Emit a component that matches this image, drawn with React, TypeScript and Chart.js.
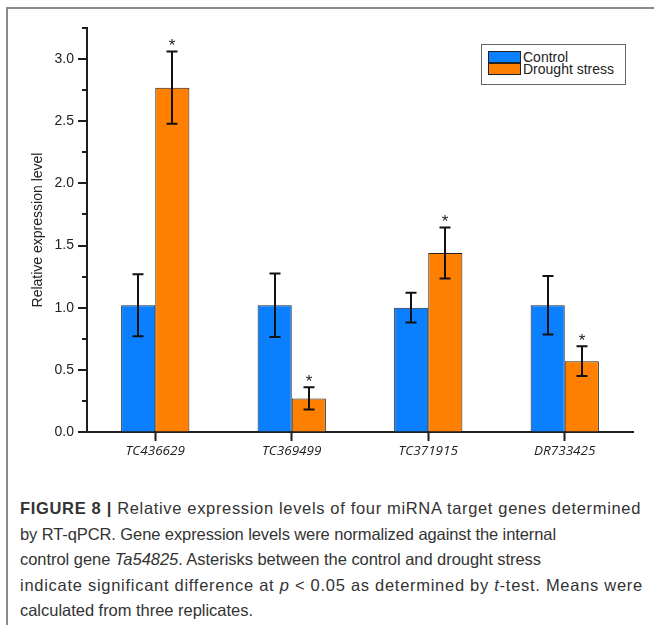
import React, { useEffect, useLayoutEffect, useRef } from "react";
import { Chart, registerables } from "chart.js";

Chart.register(...registerables);

// ---- Data ----
const categories = ["TC436629", "TC369499", "TC371915", "DR733425"];
const controlMeans = [1.02, 1.02, 1.0, 1.02];
const controlErrors = [0.25, 0.255, 0.12, 0.235];
const droughtMeans = [2.77, 0.27, 1.44, 0.57];
const droughtErrors = [0.29, 0.09, 0.205, 0.12];
const droughtSignificant = [true, true, true, true];
const seriesNames = ["Control", "Drought stress"];
const yMin = 0;
const yMax = 3.25;
const yMinorStep = 0.25;
const yTitle = "Relative expression level";

const BLUE = "#0a80ff";
const ORANGE = "#ff8000";
const INK = "#1e1e1e";

const errorsByDataset = [controlErrors, droughtErrors];
const signifByDataset = [categories.map(() => false), droughtSignificant];

const decorPlugin = {
  id: "decor",
  afterDatasetsDraw(chart: any) {
    const ctx = chart.ctx;
    const y = chart.scales.y;
    ctx.save();
    // y ticks: major every 0.5, minor every 0.25
    ctx.strokeStyle = INK;
    ctx.lineWidth = 2;
    y.ticks.forEach((t: any) => {
      const v = t.value;
      const major = Math.abs(v * 2 - Math.round(v * 2)) < 1e-6;
      const py = Math.round(y.getPixelForValue(v));
      ctx.beginPath();
      ctx.moveTo(y.right, py);
      ctx.lineTo(y.right - (major ? 9 : 5), py);
      ctx.stroke();
    });
    // error bars + asterisks
    chart.data.datasets.forEach((ds: any, di: number) => {
      const meta = chart.getDatasetMeta(di);
      meta.data.forEach((bar: any, i: number) => {
        const mean = ds.data[i];
        const err = errorsByDataset[di][i];
        const x = Math.round(bar.x);
        const top = y.getPixelForValue(mean + err);
        const bot = y.getPixelForValue(mean - err);
        ctx.strokeStyle = "#111";
        ctx.lineWidth = 2;
        ctx.beginPath();
        ctx.moveTo(x, top);
        ctx.lineTo(x, bot);
        ctx.moveTo(x - 5.5, top);
        ctx.lineTo(x + 5.5, top);
        ctx.moveTo(x - 5.5, bot);
        ctx.lineTo(x + 5.5, bot);
        ctx.stroke();
        if (signifByDataset[di][i]) {
          ctx.fillStyle = "#222";
          ctx.font = "17px 'Liberation Sans', Arial, sans-serif";
          ctx.textAlign = "center";
          ctx.textBaseline = "alphabetic";
          ctx.fillText("*", x, top - 0.5);
        }
      });
    });
    ctx.restore();
  },
};

function ChartCanvas() {
  const ref = useRef<HTMLCanvasElement>(null);
  useEffect(() => {
    if (!ref.current) return;
    const chart = new Chart(ref.current, {
      type: "bar",
      data: {
        labels: categories,
        datasets: [
          {
            label: seriesNames[0],
            data: controlMeans,
            backgroundColor: BLUE,
            borderColor: "#222",
            borderWidth: 1,
            barPercentage: 1,
            categoryPercentage: 0.5,
          },
          {
            label: seriesNames[1],
            data: droughtMeans,
            backgroundColor: ORANGE,
            borderColor: "#222",
            borderWidth: 1,
            barPercentage: 1,
            categoryPercentage: 0.5,
          },
        ],
      },
      options: {
        responsive: false,
        animation: false,
        devicePixelRatio: 1,
        layout: { padding: { left: 0, right: 21, top: 28, bottom: 0 } },
        plugins: {
          legend: { display: false },
          tooltip: { enabled: false },
        },
        scales: {
          x: {
            grid: {
              display: true,
              drawOnChartArea: false,
              offset: false,
              tickLength: 9,
              tickColor: INK,
              tickWidth: 2,
            },
            border: { display: true, color: INK, width: 2 },
            ticks: {
              color: "#222",
              padding: 2,
              font: { family: "'Open Sans', sans-serif", size: 13.5, style: "italic" },
            },
            afterFit: (s: any) => {
              s.height = 38;
            },
          },
          y: {
            min: yMin,
            max: yMax,
            grid: { display: true, drawOnChartArea: false, drawTicks: false },
            border: { display: true, color: INK, width: 2 },
            ticks: {
              stepSize: yMinorStep,
              autoSkip: false,
              padding: 13,
              color: "#222",
              font: { family: "'Liberation Sans', Arial, sans-serif", size: 14 },
              callback: (v: any) => {
                const n = Number(v);
                return Math.abs(n * 2 - Math.round(n * 2)) < 1e-6 ? n.toFixed(1) : "";
              },
            },
            title: {
              display: true,
              text: yTitle,
              color: "#222",
              font: { family: "'Liberation Sans', Arial, sans-serif", size: 14 },
              padding: { top: 30, bottom: 0 },
            },
            afterFit: (s: any) => {
              s.width = 87;
            },
          },
        },
      },
      plugins: [decorPlugin],
    });
    return () => chart.destroy();
  }, []);
  return (
    <canvas
      ref={ref}
      width={654}
      height={470}
      style={{ position: "absolute", left: 0, top: 0, width: 654, height: 470 }}
    />
  );
}

const swatch = (color: string, top: number): React.CSSProperties => ({
  position: "absolute",
  left: 488,
  top,
  width: 31,
  height: 10,
  background: color,
  border: "1px solid #222",
});

const legendText = (top: number): React.CSSProperties => ({
  position: "absolute",
  left: 523,
  top,
  fontFamily: "'Liberation Sans', Arial, sans-serif",
  fontSize: 14,
  lineHeight: "14px",
  color: "#222",
  whiteSpace: "nowrap",
});

// caption line: stretched with letter-spacing so it ends where the printed line ends
function CaptionLine({ width, children }: { width: number; children: React.ReactNode }) {
  const ref = useRef<HTMLSpanElement>(null);
  useLayoutEffect(() => {
    const fit = () => {
      const el = ref.current;
      if (!el) return;
      el.style.letterSpacing = "0px";
      const w = el.getBoundingClientRect().width;
      const n = (el.textContent || "").length;
      if (n > 0) el.style.letterSpacing = `${(width - w) / n}px`;
    };
    fit();
    if ((document as any).fonts && (document as any).fonts.ready) {
      (document as any).fonts.ready.then(fit);
    }
  }, [width]);
  return (
    <div style={{ height: 25.5, whiteSpace: "nowrap" }}>
      <span ref={ref}>{children}</span>
    </div>
  );
}

export default function App() {
  return (
    <div
      style={{
        position: "absolute",
        left: 0,
        top: 0,
        width: 654,
        height: 625,
        background: "#fff",
        overflow: "hidden",
      }}
    >
      <div
        style={{
          position: "absolute",
          left: 6,
          top: 7,
          width: 660,
          height: 640,
          borderLeft: "2px solid #8a8a8a",
          borderTop: "2px solid #8a8a8a",
        }}
      />
      <ChartCanvas />
      <div
        style={{
          position: "absolute",
          left: 481,
          top: 44,
          width: 143,
          height: 39,
          border: "1px solid #666",
          background: "#fff",
        }}
      />
      <div style={swatch(BLUE, 51)} />
      <div style={swatch(ORANGE, 63)} />
      <div style={legendText(50)}>{seriesNames[0]}</div>
      <div style={legendText(62)}>{seriesNames[1]}</div>
      <div
        style={{
          position: "absolute",
          left: 20,
          top: 496,
          fontFamily: "'Liberation Sans', Arial, sans-serif",
          fontSize: 16.5,
          lineHeight: "25.5px",
          color: "#333",
        }}
      >
        <CaptionLine width={621}>
          <b>FIGURE 8 |</b> Relative expression levels of four miRNA target genes determined
        </CaptionLine>
        <CaptionLine width={536}>
          by RT-qPCR. Gene expression levels were normalized against the internal
        </CaptionLine>
        <CaptionLine width={521}>
          control gene <i>Ta54825</i>. Asterisks between the control and drought stress
        </CaptionLine>
        <CaptionLine width={623}>
          indicate significant difference at <i>p</i> &lt; 0.05 as determined by <i>t</i>-test. Means were
        </CaptionLine>
        <CaptionLine width={233}>calculated from three replicates.</CaptionLine>
      </div>
    </div>
  );
}
